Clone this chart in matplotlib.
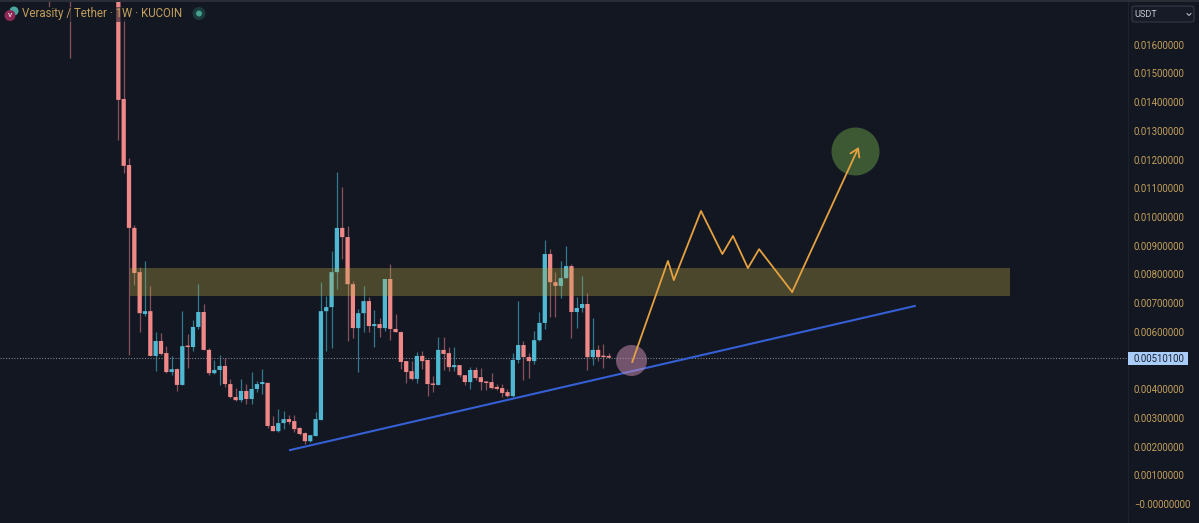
#!/usr/bin/env python3
# -*- coding: utf-8 -*-
"""VRA/USDT weekly chart with the hand drawn zone, trend line and path."""

import numpy as np
import matplotlib
matplotlib.use("Agg")
import matplotlib.pyplot as plt
from matplotlib.patches import Ellipse, Rectangle, FancyBboxPatch

# ---------- data, prices in 1e-5 USDT ----------
UNIT = 1e-5
weeks = [-13, -9] + list(range(0, 93))
opens = [1900, 1850, 1780, 1411, 1181, 962, 808, 662, 672, 516, 568, 526, 460, 470, 415, 550, 547, 617, 669, 537,
         456, 467, 481, 418, 373, 362, 394, 366, 401, 418, 422, 272, 254, 282, 296, 289, 265, 247, 219, 237,
         293, 672, 686, 808, 962, 930, 766, 613, 665, 707, 620, 627, 613, 784, 610, 599, 498, 463, 436, 516,
         502, 418, 415, 537, 526, 477, 484, 449, 425, 467, 442, 425, 425, 408, 404, 390, 376, 502, 554, 512,
         498, 571, 631, 871, 773, 760, 787, 829, 669, 683, 697, 512, 537, 516, 516]
highs = [1950, 1900, 1850, 1686, 1205, 972, 826, 847, 760, 599, 596, 550, 516, 474, 672, 592, 641, 766, 697, 544,
         502, 519, 509, 436, 404, 436, 418, 460, 429, 470, 425, 307, 331, 324, 310, 310, 268, 251, 240, 321,
         773, 725, 881, 1157, 1104, 969, 777, 679, 760, 721, 676, 648, 784, 836, 662, 603, 498, 498, 530, 533,
         502, 446, 582, 582, 547, 547, 484, 449, 477, 477, 474, 429, 456, 418, 418, 401, 526, 707, 568, 526,
         603, 669, 920, 888, 808, 847, 899, 836, 721, 794, 735, 648, 554, 557, 526]
lows = [1732, 1554, 1268, 1153, 519, 763, 599, 655, 516, 463, 519, 456, 449, 394, 415, 474, 533, 610, 537, 449,
        453, 415, 408, 369, 359, 355, 348, 348, 390, 383, 265, 254, 251, 261, 279, 251, 240, 209, 216, 237,
        293, 533, 544, 749, 854, 568, 578, 460, 599, 599, 547, 582, 603, 571, 599, 470, 422, 432, 422, 470,
        376, 390, 415, 467, 463, 463, 442, 415, 401, 432, 397, 397, 401, 397, 373, 373, 373, 491, 432, 439,
        488, 568, 610, 652, 652, 718, 787, 578, 613, 669, 467, 484, 498, 474, 509]
closes = [1800, 1800, 1408, 1178, 962, 805, 665, 672, 516, 568, 523, 460, 470, 415, 550, 547, 617, 669, 537, 456,
          467, 481, 418, 373, 362, 394, 366, 401, 418, 425, 272, 254, 282, 296, 286, 261, 244, 219, 240, 296,
          672, 686, 808, 962, 930, 766, 613, 665, 707, 620, 627, 613, 784, 610, 599, 495, 460, 436, 516, 498,
          418, 415, 537, 523, 477, 484, 449, 425, 467, 439, 425, 422, 404, 401, 387, 376, 502, 554, 512, 498,
          571, 631, 871, 773, 760, 787, 829, 669, 683, 697, 512, 537, 512, 512, 510]

last_price = 510.1
tick_values = [1600, 1500, 1400, 1300, 1200, 1100, 1000, 900, 800, 700, 600, 400, 300, 200, 100, 0]
tick_labels = ["0.01600000", "0.01500000", "0.01400000", "0.01300000", "0.01200000", "0.01100000",
               "0.01000000", "0.00900000", "0.00800000", "0.00700000", "0.00600000", "0.00400000",
               "0.00300000", "0.00200000", "0.00100000", "−0.00000000"]

zone_weeks = [2.2, 167.3]
zone_prices = [725, 822]
trend_weeks = [32.2, 149.4]
trend_prices = [188, 690]
path_weeks = [96.4, 103.1, 104.2, 109.3, 113.3, 115.3, 118.1, 120.2, 126.4, 138.9]
path_prices = [495, 847, 780, 1021, 871, 934, 822, 888, 739, 1244]
# ------------------------------------------------

W, H = 1199, 523
BG = "#131722"
UP = "#4fb9d4"
DOWN = "#f08888"
UP_WICK = "#2f7a8e"
DOWN_WICK = "#85525c"
GOLD = "#c2a05c"


def fx(x):
    return x / W


def fy(y):
    return 1 - y / H


plt.rcParams["font.family"] = ["Roboto", "DejaVu Sans"]

fig = plt.figure(figsize=(W / 100, H / 100), dpi=100, facecolor=BG)
ax = fig.add_axes([0, 0, 1128 / W, 521 / H], facecolor=BG)

week_arr = np.array(weeks)
o = np.array(opens) * UNIT
h = np.array(highs) * UNIT
l = np.array(lows) * UNIT
c = np.array(closes) * UNIT
rising = c >= o

ax.vlines(week_arr[rising], l[rising], h[rising], color=UP_WICK, lw=0.9, zorder=2)
ax.vlines(week_arr[~rising], l[~rising], h[~rising], color=DOWN_WICK, lw=0.9, zorder=2)
bars = ax.bar(week_arr, np.maximum(np.abs(c - o), 5e-5), bottom=np.minimum(o, c), width=0.8,
              color=[UP if r else DOWN for r in rising], lw=0, zorder=3)
for b in bars:
    b.set_snap(False)

ax.axhline(last_price * UNIT, color="#7d818b", lw=0.8, ls=(0, (1, 1.5)), zorder=2)

ax.add_patch(Rectangle((zone_weeks[0], zone_prices[0] * UNIT), zone_weeks[1] - zone_weeks[0],
                       (zone_prices[1] - zone_prices[0]) * UNIT,
                       facecolor="#bfae46", alpha=0.32, lw=0, zorder=4))
ax.plot(trend_weeks, np.array(trend_prices) * UNIT, color="#3560d4", lw=1.5, zorder=5)

ax.scatter([138.2], [1230 * UNIT], s=1194, color="#3c5933", lw=0, zorder=5)
ax.scatter([96.2], [502 * UNIT], s=500, color="#d08fb4", alpha=0.5, lw=0, zorder=6)

ax.plot(path_weeks[:-1], np.array(path_prices[:-1]) * UNIT, color="#e5a13f", lw=1.3, zorder=7)
ax.annotate("", xy=(path_weeks[-1], path_prices[-1] * UNIT),
            xytext=(path_weeks[-2], path_prices[-2] * UNIT),
            arrowprops=dict(arrowstyle="->,head_length=0.55,head_width=0.35", color="#e5a13f",
                            lw=1.3, shrinkA=0, shrinkB=0), zorder=7)

ax.set_xlim(-22.2, 189.4)
ax.set_ylim(-66 * UNIT, 1749 * UNIT)
ax.set_xticks([])
ax.yaxis.tick_right()
ax.set_yticks(np.array(tick_values) * UNIT)
ax.set_yticklabels(tick_labels, color=GOLD, fontsize=6.9)
ax.tick_params(axis="y", length=0, pad=4.3)
for side in ("top", "bottom", "left"):
    ax.spines[side].set_visible(False)
ax.spines["right"].set_color("#1e222d")
ax.spines["right"].set_linewidth(0.8)

# top edge of the screenshot
fig.add_artist(Rectangle((0, fy(2)), 1, 2 / H, transform=fig.transFigure, facecolor="#2a2d36", lw=0))

# header: coin icons, title backing, title, status dot
fig.add_artist(Rectangle((fx(20), fy(22)), 168 / W, 15 / H, transform=fig.transFigure,
                         facecolor=BG, alpha=0.55, lw=0))
fig.add_artist(Ellipse((fx(14), fy(11)), 9 / W, 9 / H, transform=fig.transFigure, facecolor="#4aa6a0", lw=0))
fig.add_artist(Ellipse((fx(10), fy(15.5)), 11 / W, 11 / H, transform=fig.transFigure, facecolor="#8c2a55", lw=0))
fig.text(fx(10), fy(15.5), "V", color="#f3d6e0", fontsize=4.5, fontweight="bold", ha="center", va="center")
fig.text(fx(22), fy(14), "Verasity / Tether · 1W · KUCOIN", color=GOLD, fontsize=8.3, va="center")
fig.add_artist(Ellipse((fx(199), fy(13.5)), 13 / W, 13 / H, transform=fig.transFigure, facecolor="#1c3a3c", lw=0))
fig.add_artist(Ellipse((fx(199), fy(13.5)), 6 / W, 6 / H, transform=fig.transFigure, facecolor="#45a08f", lw=0))

# currency box
fig.add_artist(FancyBboxPatch((fx(1132), fy(22)), 62 / W, 16 / H, boxstyle="round,pad=0,rounding_size=0.003",
                              transform=fig.transFigure, facecolor="#171b27", edgecolor="#343945", lw=0.8))
fig.text(fx(1134), fy(14.5), "USDT", color="#c5c8d0", fontsize=6.6, va="center")
fig.add_artist(plt.Line2D([fx(1187), fx(1189), fx(1191)], [fy(13.5), fy(15.5), fy(13.5)],
                          transform=fig.transFigure, color="#c5c8d0", lw=0.7))

# last price label
fig.add_artist(Rectangle((fx(1128), fy(365)), 60 / W, 13 / H, transform=fig.transFigure,
                         facecolor="#a9cdf8", lw=0))
fig.text(fx(1134), fy(358.5), "0.00510100", color="#1b2233", fontsize=6.9, va="center")

fig.savefig("out.png", dpi=100, facecolor=BG)
